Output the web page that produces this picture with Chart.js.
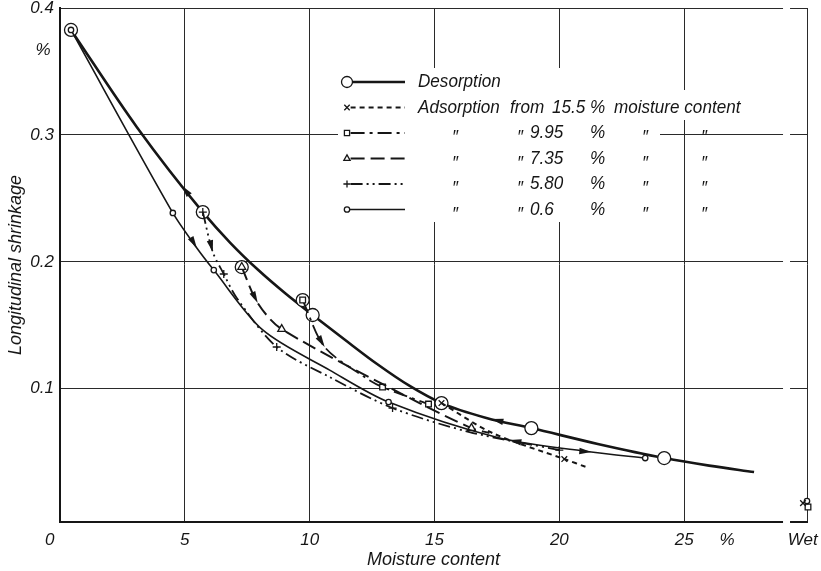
<!DOCTYPE html>
<html>
<head>
<meta charset="utf-8">
<script src="https://cdn.jsdelivr.net/npm/chart.js@4.4.0/dist/chart.umd.min.js"></script>
<style>
  html, body { margin: 0; padding: 0; background: #fff; }
  canvas { display: block; }
</style>
</head>
<body>
<canvas id="chart" width="821" height="571"></canvas>
<script>
// axis ticks
const xTickValues = [0, 5, 10, 15, 20, 25, 26.72, 29.92];
const xTickLabels = ['0\u2002\u2002\u2009', '5', '10', '15', '20', '25', '%', 'Wet\u2002'];
const yTickValues = [0.1, 0.2, 0.3, 0.367, 0.4];
const yTickLabels = ['0.1', '0.2', '0.3', '%\u2009', '0.4'];
const axisBreakX = [28.96, 29.24];

// desorption (big circles on measured points)
const desorptionX = [0.44, 3.08, 5.72, 6.82, 7.92, 9.02, 10.12, 11.41, 12.7, 13.99, 15.28, 17.08, 18.88, 21.54, 24.2, 26.0, 27.8];
const desorptionY = [0.3827, 0.3061, 0.2392, 0.2150, 0.1939, 0.1752, 0.1581, 0.1386, 0.1195, 0.1024, 0.0887, 0.0770, 0.0690, 0.0565, 0.0454, 0.0394, 0.0344];
const desorptionMeasured = [1, 0, 1, 0, 0, 0, 1, 0, 0, 0, 1, 0, 1, 0, 1, 0, 0];

// adsorption from 15.5 %
const ads155X = [15.28, 17.32, 20.2, 21.08];
const ads155Y = [0.0887, 0.0651, 0.0446, 0.0383];
const ads155Measured = [1, 0, 1, 0];

// adsorption from 9.95 %
const ads995X = [9.72, 10.6, 12.2, 12.92, 14.76];
const ads995Y = [0.1699, 0.1329, 0.1092, 0.1013, 0.0879];
const ads995Measured = [1, 0, 0, 1, 1];

// adsorption from 7.35 %
const ads735X = [7.28, 7.92, 8.88, 14.4, 16.48, 17.2];
const ads735Y = [0.1959, 0.1675, 0.1470, 0.0887, 0.0690, 0.0651];
const ads735Measured = [1, 0, 1, 0, 1, 0];

// adsorption from 5.80 %
const ads580X = [5.72, 6.12, 6.56, 7.08, 8.68, 10.8, 13.32, 16.4, 20.0];
const ads580Y = [0.2392, 0.2077, 0.1904, 0.1715, 0.1329, 0.1092, 0.0848, 0.0659, 0.0517];
const ads580Measured = [1, 0, 1, 0, 1, 0, 1, 0, 1];

// adsorption from 0.6 %
const ads06X = [0.44, 4.52, 5.48, 6.16, 8.12, 10.8, 13.16, 17.6, 21.28, 23.44];
const ads06Y = [0.3827, 0.2385, 0.2109, 0.1935, 0.1463, 0.1147, 0.0895, 0.0612, 0.0501, 0.0454];
const ads06Measured = [1, 1, 0, 1, 0, 0, 1, 0, 0, 1];

// start rings of the 9.95 % and 7.35 % runs, and the "wet" readings
const ring995 = [9.72, 0.1699];
const ring735 = [7.28, 0.1959];
const wet155 = [29.76, 0.0099];
const wet06 = [29.92, 0.0115];
const wet995 = [29.96, 0.0068];

// flow arrows: tail x, tail y, head x, head y
const flowArrows = [
  [5.2, 0.2519, 4.88, 0.2600],
  [17.8, 0.0737, 17.28, 0.0762],
  [5.24, 0.2188, 5.48, 0.2109],
  [20.8, 0.0509, 21.28, 0.0501],
  [6.0, 0.2172, 6.12, 0.2077],
  [7.72, 0.1754, 7.92, 0.1675],
  [10.36, 0.1407, 10.6, 0.1329],
  [18.6, 0.0572, 18.0, 0.0596]
];

const startContents = ['15.5', '9.95', '7.35', '5.80', '0.6'];

const ink = '#161616';
const FONT = "'Liberation Sans', Arial, sans-serif";
Chart.defaults.font.family = FONT;

const styles = {
  des:  { dash: [], width: 2.6, point: 'circle', r: 6.5 },
  a155: { dash: [5, 4], width: 2, point: 'crossRot', r: 4 },
  a995: { dash: [14, 5, 3, 5], width: 1.8, point: 'rect', r: 4 },
  a735: { dash: [14, 6], width: 2, point: 'triangle', r: 4.5 },
  a580: { dash: [12, 4, 2, 4, 2, 4], width: 1.8, point: 'cross', r: 4 },
  a06:  { dash: [], width: 1.6, point: 'circle', r: 2.7 }
};

function series(label, xs, ys, measured, st, order, smooth) {
  return {
    label,
    data: xs.map((x, i) => ({ x, y: ys[i] })),
    borderColor: ink,
    borderWidth: st.width,
    borderDash: st.dash,
    pointStyle: st.point,
    pointRadius: measured.map(m => (m ? st.r : 0)),
    pointBackgroundColor: '#fff',
    pointBorderColor: ink,
    pointBorderWidth: 1.3,
    tension: 0.3,
    cubicInterpolationMode: smooth || 'default',
    fill: false,
    order
  };
}

function marks(label, pt, st, order) {
  return {
    label,
    data: [{ x: pt[0], y: pt[1] }],
    showLine: false,
    pointStyle: st.point,
    pointRadius: st.r,
    pointBackgroundColor: '#fff',
    pointBorderColor: ink,
    pointBorderWidth: 1.3,
    clip: false,
    order
  };
}

const datasets = [
  series('Adsorption from 0.6 %', ads06X, ads06Y, ads06Measured, styles.a06, 2),
  series('Adsorption from 5.80 %', ads580X, ads580Y, ads580Measured, styles.a580, 2),
  series('Adsorption from 7.35 %', ads735X, ads735Y, ads735Measured, styles.a735, 2),
  series('Adsorption from 9.95 %', ads995X, ads995Y, ads995Measured, styles.a995, 2),
  series('Adsorption from 15.5 %', ads155X, ads155Y, ads155Measured, styles.a155, 2),
  marks('wet 15.5', wet155, styles.a155, 1),
  marks('wet 0.6', wet06, styles.a06, 1),
  marks('wet 9.95', wet995, styles.a995, 1),
  marks('ring 9.95', ring995, styles.des, 5),
  marks('ring 7.35', ring735, styles.des, 5),
  series('Desorption', desorptionX, desorptionY, desorptionMeasured, styles.des, 10, 'monotone')
];

function drawMarker(ctx, style, x, y, r) {
  ctx.beginPath();
  if (style === 'circle') {
    ctx.arc(x, y, r, 0, Math.PI * 2);
    ctx.fill();
    ctx.stroke();
  } else if (style === 'rect') {
    const s = r * 0.72;
    ctx.rect(x - s, y - s, 2 * s, 2 * s);
    ctx.fill();
    ctx.stroke();
  } else if (style === 'triangle') {
    ctx.moveTo(x, y - r);
    ctx.lineTo(x + r * 0.87, y + r * 0.5);
    ctx.lineTo(x - r * 0.87, y + r * 0.5);
    ctx.closePath();
    ctx.fill();
    ctx.stroke();
  } else if (style === 'cross') {
    ctx.moveTo(x - r, y); ctx.lineTo(x + r, y);
    ctx.moveTo(x, y - r); ctx.lineTo(x, y + r);
    ctx.stroke();
  } else if (style === 'crossRot') {
    const s = r * 0.75;
    ctx.moveTo(x - s, y - s); ctx.lineTo(x + s, y + s);
    ctx.moveTo(x - s, y + s); ctx.lineTo(x + s, y - s);
    ctx.stroke();
  }
}

// condensed lettering: draw real text squeezed horizontally
function letter(ctx, text, x, y, align) {
  const sx = 0.9;
  const w = ctx.measureText(text).width * sx;
  const left = align === 'center' ? x - w / 2 : x;
  ctx.save();
  ctx.translate(left, y);
  ctx.scale(sx, 1);
  ctx.textAlign = 'left';
  ctx.fillText(text, 0, 0);
  ctx.restore();
}

const paperPlugin = {
  id: 'paper',
  beforeDatasetsDraw(chart) {
    const { ctx, chartArea } = chart;
    const xs = chart.scales.x;
    ctx.save();
    ctx.fillStyle = '#fff';
    // legend panel
    ctx.fillRect(338, 68, 322, 154);
    ctx.fillRect(660, 90, 88, 30);
    // axis break before the "wet" column
    const b0 = xs.getPixelForValue(axisBreakX[0]);
    const b1 = xs.getPixelForValue(axisBreakX[1]);
    ctx.fillRect(b0, chartArea.top - 2, b1 - b0, chartArea.bottom - chartArea.top + 4);
    ctx.restore();
  },
  afterDatasetsDraw(chart) {
    const { ctx } = chart;
    const xs = chart.scales.x, ys = chart.scales.y;
    ctx.save();
    ctx.fillStyle = ink;
    flowArrows.forEach(a => {
      const x1 = xs.getPixelForValue(a[0]), y1 = ys.getPixelForValue(a[1]);
      const x2 = xs.getPixelForValue(a[2]), y2 = ys.getPixelForValue(a[3]);
      const ang = Math.atan2(y2 - y1, x2 - x1);
      const len = 12, w = 3.2;
      const c = Math.cos(ang), s = Math.sin(ang);
      ctx.beginPath();
      ctx.moveTo(x2, y2);
      ctx.lineTo(x2 - len * c + w * s, y2 - len * s - w * c);
      ctx.lineTo(x2 - len * c - w * s, y2 - len * s + w * c);
      ctx.closePath();
      ctx.fill();
    });

    // legend
    const rowY = i => 82 + i * 25.5;
    const order = ['des', 'a155', 'a995', 'a735', 'a580', 'a06'];
    ctx.strokeStyle = ink;
    ctx.lineCap = 'butt';
    order.forEach((k, i) => {
      const st = styles[k];
      const y = rowY(i);
      const mx = 347;
      const r = k === 'des' ? 5.5 : (k === 'a06' ? 2.7 : 3.6);
      ctx.lineWidth = st.width;
      ctx.setLineDash(st.dash);
      ctx.beginPath();
      ctx.moveTo(mx + r, y);
      ctx.lineTo(405, y);
      ctx.stroke();
      ctx.setLineDash([]);
      ctx.lineWidth = 1.3;
      ctx.fillStyle = '#fff';
      drawMarker(ctx, st.point, mx, y, r);
    });

    ctx.fillStyle = ink;
    ctx.textBaseline = 'middle';
    ctx.font = 'italic 19px ' + FONT;
    letter(ctx, 'Desorption', 418, rowY(0));
    letter(ctx, 'Adsorption', 418, rowY(1));
    letter(ctx, 'from', 510, rowY(1));
    letter(ctx, startContents[0], 552, rowY(1));
    letter(ctx, '%', 590, rowY(1));
    letter(ctx, 'moisture content', 614, rowY(1));
    const ditto = '\u2033';
    for (let i = 1; i < startContents.length; i++) {
      const y = rowY(i + 1);
      [455, 520, 645, 704].forEach(dx => letter(ctx, ditto, dx, y + 5, 'center'));
      letter(ctx, startContents[i], 530, y);
      letter(ctx, '%', 590, y);
    }
    ctx.restore();
  }
};

new Chart(document.getElementById('chart'), {
  type: 'line',
  data: { datasets },
  options: {
    responsive: false,
    animation: false,
    devicePixelRatio: 1,
    layout: { padding: { left: 0, right: 14, top: 8, bottom: 0 } },
    plugins: { legend: { display: false }, tooltip: { enabled: false } },
    scales: {
      x: {
        type: 'linear',
        min: 0,
        max: 29.92,
        afterBuildTicks: s => { s.ticks = xTickValues.map(v => ({ value: v })); },
        afterFit: s => { s.height = 49; s.paddingLeft = 0; s.paddingRight = 0; },
        ticks: {
          autoSkip: false,
          maxRotation: 0,
          padding: 8,
          color: ink,
          font: { size: 17, style: 'italic' },
          callback: (v, i) => xTickLabels[i]
        },
        grid: {
          drawTicks: false,
          color: c => (c.tick && c.tick.value === 26.72 ? 'rgba(0,0,0,0)' : '#2a2a2a'),
          lineWidth: 1
        },
        border: { display: true, color: ink, width: 2 },
        title: {
          display: true,
          text: 'Moisture content',
          color: ink,
          font: { size: 18, style: 'italic' },
          padding: { top: 0, bottom: 0 }
        }
      },
      y: {
        type: 'linear',
        min: -0.005,
        max: 0.4,
        afterBuildTicks: s => { s.ticks = yTickValues.map(v => ({ value: v })); },
        afterFit: s => { s.width = 60; s.paddingTop = 0; s.paddingBottom = 0; },
        ticks: {
          autoSkip: false,
          padding: 6,
          color: ink,
          font: { size: 17, style: 'italic' },
          callback: (v, i) => yTickLabels[i]
        },
        grid: {
          drawTicks: false,
          color: c => (c.tick && c.tick.value === 0.367 ? 'rgba(0,0,0,0)' : '#2a2a2a'),
          lineWidth: 1
        },
        border: { display: true, color: ink, width: 2 },
        title: {
          display: true,
          text: 'Longitudinal shrinkage',
          color: ink,
          font: { size: 18, style: 'italic' },
          padding: { top: 5, bottom: 0 }
        }
      }
    }
  },
  plugins: [paperPlugin]
});
</script>
</body>
</html>
